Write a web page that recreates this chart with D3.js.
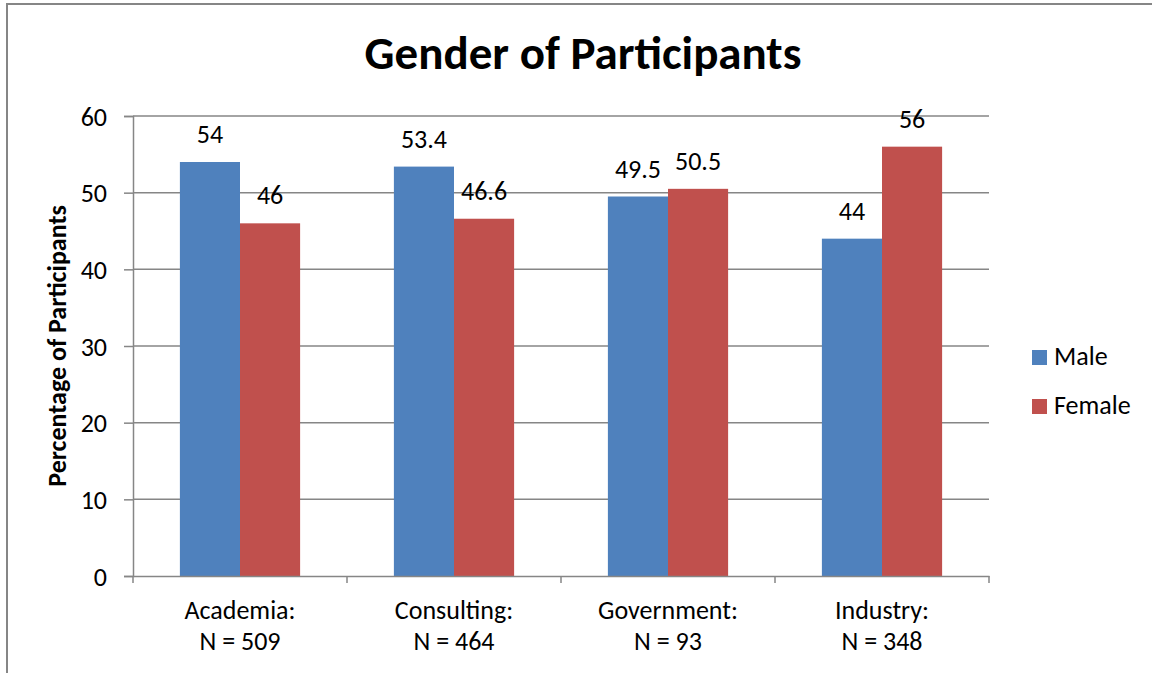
<!DOCTYPE html>
<html>
<head>
<meta charset="utf-8">
<script src="https://cdn.jsdelivr.net/npm/d3@7"></script>
<style>
  body { margin: 0; background: #fff; }
  text { font-family: Carlito, Calibri, Lato, sans-serif; fill: #000; }
</style>
</head>
<body>
<div class="container"></div>
<script>
let categories = ['Academia:|N = 509', 'Consulting:|N = 464', 'Government:|N = 93', 'Industry:|N = 348'];
let seriesNames = ['Male', 'Female'];
let maleValues = [54, 53.4, 49.5, 44];
let femaleValues = [46, 46.6, 50.5, 56];
let yTicks = [0, 10, 20, 30, 40, 50, 60];
let colors = ['#4f81bd', '#c0504d'];

let margin = { top: 116, right: 163, bottom: 97, left: 133 };
let fullW = 1152;
let fullH = 673;
let width = fullW - margin.left - margin.right;
let height = fullH - margin.top - margin.bottom;

let svg = d3
  .select('.container')
  .append('svg')
  .attr('width', fullW)
  .attr('height', fullH);

// chart border
svg
  .append('rect')
  .attr('x', 7)
  .attr('y', 4)
  .attr('width', fullW + 10)
  .attr('height', fullH + 10)
  .attr('fill', 'none')
  .attr('stroke', '#868686')
  .attr('stroke-width', 2);

svg
  .append('text')
  .attr('x', 583)
  .attr('y', 69)
  .attr('text-anchor', 'middle')
  .style('font-size', '47px')
  .style('font-weight', 'bold')
  .text('Gender of Participants');

let g = svg.append('g').attr('transform', 'translate(' + margin.left + ',' + margin.top + ')');

let xScale = d3.scaleBand().domain(categories).range([0, width]);
let xInner = d3
  .scaleBand()
  .domain(seriesNames)
  .range([0, xScale.bandwidth()])
  .paddingOuter(0.78)
  .paddingInner(0);
let yScale = d3.scaleLinear().domain([0, 60]).range([height, 0]);

// gridlines
g.append('g')
  .selectAll('line')
  .data(yTicks.slice(1))
  .enter()
  .append('line')
  .attr('x1', 0)
  .attr('x2', width)
  .attr('y1', (d) => yScale(d))
  .attr('y2', (d) => yScale(d))
  .attr('stroke', '#868686')
  .attr('stroke-width', 1.5);

// y axis
let yAxis = d3.axisLeft(yScale).tickValues(yTicks).tickSize(9).tickPadding(17);
let yG = g.append('g').attr('id', 'y-axis').call(yAxis);
yG.select('.domain').attr('stroke', '#868686').attr('stroke-width', 1.5);
yG.selectAll('.tick line').attr('stroke', '#868686').attr('stroke-width', 1.5);
yG.selectAll('.tick text').style('font-size', '26px').style('font-family', 'Carlito, Calibri, Lato, sans-serif').attr('dy', '0.35em');

svg
  .append('text')
  .attr('transform', 'translate(66,' + (margin.top + height / 2) + ') rotate(-90)')
  .attr('text-anchor', 'middle')
  .style('font-size', '26px')
  .style('font-weight', 'bold')
  .text('Percentage of Participants');

let rows = categories.map((c, i) => ({ cat: c, vals: [maleValues[i], femaleValues[i]] }));

let groups = g
  .append('g')
  .selectAll('.grp')
  .data(rows)
  .enter()
  .append('g')
  .attr('class', 'grp')
  .attr('transform', (d) => 'translate(' + xScale(d.cat) + ',0)');

groups
  .selectAll('rect')
  .data((d) => d.vals.map((v, i) => ({ name: seriesNames[i], v: v, i: i })))
  .enter()
  .append('rect')
  .attr('x', (d) => xInner(d.name))
  .attr('y', (d) => yScale(d.v))
  .attr('width', xInner.bandwidth())
  .attr('height', (d) => height - yScale(d.v))
  .attr('fill', (d) => colors[d.i]);

groups
  .selectAll('.lbl')
  .data((d) => d.vals.map((v, i) => ({ name: seriesNames[i], v: v })))
  .enter()
  .append('text')
  .attr('class', 'lbl')
  .attr('x', (d) => xInner(d.name) + xInner.bandwidth() / 2)
  .attr('y', (d) => yScale(d.v) - 19)
  .attr('text-anchor', 'middle')
  .style('font-size', '26px')
  .text((d) => d.v);

// x axis
let xAxis = d3.axisBottom(xScale).tickSize(0).tickFormat('');
let xG = g.append('g').attr('id', 'x-axis').attr('transform', 'translate(0,' + height + ')').call(xAxis);
xG.select('.domain').attr('stroke', '#868686').attr('stroke-width', 1.5);
xG.selectAll('.tick').remove();

xG.selectAll('.sep')
  .data(d3.range(categories.length + 1))
  .enter()
  .append('line')
  .attr('x1', (i) => (i < categories.length ? xScale(categories[i]) : width))
  .attr('x2', (i) => (i < categories.length ? xScale(categories[i]) : width))
  .attr('y1', 0)
  .attr('y2', 7)
  .attr('stroke', '#868686')
  .attr('stroke-width', 1.5);

let catLabels = xG
  .selectAll('.cat')
  .data(categories)
  .enter()
  .append('text')
  .attr('class', 'cat')
  .attr('x', (d) => xScale(d) + xScale.bandwidth() / 2)
  .attr('text-anchor', 'middle')
  .style('font-size', '26px');
catLabels.append('tspan').attr('x', (d) => xScale(d) + xScale.bandwidth() / 2).attr('y', 43).text((d) => d.split('|')[0]);
catLabels.append('tspan').attr('x', (d) => xScale(d) + xScale.bandwidth() / 2).attr('y', 74).text((d) => d.split('|')[1]);

// legend
let legend = svg
  .append('g')
  .selectAll('.leg')
  .data(seriesNames)
  .enter()
  .append('g')
  .attr('class', 'leg')
  .attr('transform', (d, i) => 'translate(1032,' + (350 + i * 49) + ')');
legend.append('rect').attr('width', 15).attr('height', 15).attr('fill', (d, i) => colors[i]);
legend
  .append('text')
  .attr('x', 22)
  .attr('y', 15)
  .style('font-size', '26px')
  .text((d) => d);
</script>
</body>
</html>
